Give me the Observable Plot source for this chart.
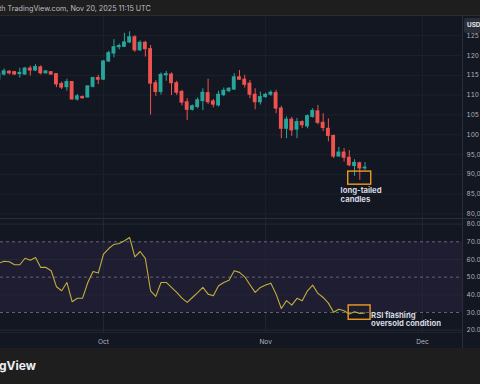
<!DOCTYPE html>
<html>
<head>
<meta charset="utf-8">
<script src="https://cdn.jsdelivr.net/npm/d3@7"></script>
<script src="https://cdn.jsdelivr.net/npm/@observablehq/plot@0.6"></script>
<style>
  html, body { margin: 0; padding: 0; width: 480px; height: 384px; overflow: hidden; background: #1e1e1e; }
  #wrap { position: relative; width: 480px; height: 384px; overflow: hidden; }
  #topbar { position: absolute; left: 0; top: 0; width: 480px; height: 15px; background: #1e1e1e; border-bottom: 1px solid #2b2b2e;
            color: #bcbfc7; font: 7.2px Inter, sans-serif; line-height: 17px; white-space: nowrap; }
  #topbar span { position: relative; left: -1px; }
  #price { position: absolute; left: 0; top: 16px; }
  #rsi { position: absolute; left: 0; top: 219px; }
  #bottombar { position: absolute; left: 0; top: 348px; width: 480px; height: 36px; background: #1e1e1e;
               color: #eceef2; font: bold 12px Inter, sans-serif; line-height: 36px; white-space: nowrap; }
  #bottombar span { position: relative; left: -1px; }
  .sep { position: absolute; background: #2a2e39; }
  #usd { position: absolute; left: 463.5px; top: 18px; width: 16.5px; height: 15px; background: #2a2e39; border-radius: 2px 0 0 2px;
         color: #e6e8ee; font: bold 6.4px Inter, sans-serif; line-height: 15px; padding-left: 3.5px; box-sizing: border-box;
         overflow: hidden; white-space: nowrap; }
</style>
</head>
<body>
<div id="wrap">
  <div id="topbar"><span>th TradingView.com, Nov 20, 2025 11:15 UTC</span></div>
  <div id="price"></div>
  <div id="rsi"></div>
  <div class="sep" style="left:0;top:218px;width:480px;height:1px;"></div>
  <div class="sep" style="left:0;top:332px;width:462px;height:1px;background:#1f2330;"></div>
  <div class="sep" style="left:462px;top:16px;width:1px;height:332px;"></div>
  <div id="usd">USD</div>
  <div id="bottombar"><span>gView</span></div>
</div>
<script>
// Daily BTC/USD candles, Sep 11 – Nov 20, 2025 (prices in USD thousands)
const firstDay = "2025-09-11";
const lastDay = "2025-11-20";
const open  = [113.9,115.2,115.9,115.8,115.3,115.2,116.7,116.2,117.0,115.5,115.8,115.3,112.8,112.0,113.3,108.9,109.5,109.4,112.1,114.3,
               113.9,118.5,120.5,122.1,122.2,123.3,124.6,121.3,123.2,121.6,113.0,110.8,115.0,115.2,113.0,110.8,108.2,106.3,107.0,108.5,
               110.5,108.4,107.4,110.0,111.0,111.4,114.5,113.9,112.9,110.1,108.2,109.5,110.1,110.5,106.6,101.5,103.8,101.3,103.2,102.1,
               104.5,105.9,103.0,101.5,99.7,94.5,95.5,94.2,92.1,92.8,91.5];
const high  = [115.6,116.6,116.2,116.0,116.8,117.0,117.3,117.7,117.4,116.2,115.9,115.4,113.3,114.0,113.4,110.2,109.8,112.4,114.5,115.0,
               118.7,121.1,124.0,122.9,125.6,126.0,125.0,123.7,123.6,122.5,113.7,115.6,116.0,115.6,113.5,111.2,109.1,107.5,109.3,111.6,
               114.0,108.9,111.0,111.8,111.9,115.4,116.2,115.0,113.7,111.6,110.8,110.5,111.1,111.2,107.2,104.5,104.4,104.1,103.5,105.0,
               106.6,107.4,105.3,104.0,99.9,96.8,96.5,96.0,93.7,93.1,93.0];
const low   = [113.5,114.8,115.1,115.0,114.3,115.0,114.8,116.0,115.1,115.3,115.0,111.9,111.4,111.0,108.7,108.5,109.0,109.3,111.8,112.7,
               113.7,118.2,119.4,121.4,122.0,123.0,120.8,121.0,119.6,105.0,109.7,110.0,113.5,109.9,109.9,107.3,103.6,106.0,106.5,106.1,
               107.6,106.8,107.0,109.6,110.6,111.2,113.7,111.8,109.1,106.3,107.5,109.2,109.7,105.3,99.0,99.0,99.6,99.0,101.6,101.5,
               104.2,102.5,100.8,98.2,94.0,94.4,93.1,91.9,89.5,88.5,91.0];
const close = [115.4,116.0,115.5,115.2,115.6,116.7,116.2,117.1,115.5,116.0,115.2,112.7,111.9,113.3,108.9,109.7,109.2,112.2,114.3,113.9,
               118.5,120.6,122.1,122.4,123.3,124.6,121.3,123.2,121.6,112.9,110.8,115.1,115.3,113.0,110.6,108.1,106.3,107.2,108.7,110.6,
               108.2,107.6,110.1,111.1,111.6,114.5,113.9,112.6,110.1,108.2,109.5,110.1,110.6,106.6,101.5,103.8,101.1,103.2,102.4,104.7,
               106.0,103.0,101.7,99.7,94.5,95.5,94.2,92.3,92.9,91.5,91.7];
// RSI (14) values for the same days
const rsi   = [57.9,59.0,58.7,57.0,57.0,60.7,59.6,61.1,55.5,55.5,53.6,44.6,42.3,47.0,36.1,38.1,38.1,47.0,53.2,52.3,
               63.0,66.2,68.5,69.0,70.6,72.4,61.5,64.5,60.6,42.3,39.1,47.0,47.0,44.2,41.4,38.1,35.7,38.5,41.2,44.2,
               40.4,39.5,45.1,47.0,48.3,53.6,52.7,50.2,45.7,41.4,44.2,45.5,46.6,40.4,32.3,36.7,34.2,38.0,36.7,42.3,
               45.5,40.8,38.5,35.3,30.1,31.9,31.0,29.1,30.4,29.5,29.7];

const priceTicks = [80, 85, 90, 95, 100, 105, 110, 115, 120, 125];
const rsiTicks = [20, 30, 40, 50, 60, 70, 80];
const rsiDashed = [30, 50, 70];
const rsiGrid = [20, 40, 60, 80];
const rsiBand = [{lo: 30, hi: 70}];
const monthTicks = [new Date("2025-10-01"), new Date("2025-11-01"), new Date("2025-12-01")];

// Annotations (in data coordinates)
const candleBox = [{from: "2025-11-16T19:00Z", to: "2025-11-21T04:30Z", lo: 87.4, hi: 90.7}];
const candleNote = [{at: "2025-11-15T08:00Z", y: 86.8, text: "long-tailed\ncandles"}];
const rsiBox = [{from: "2025-11-16T21:00Z", to: "2025-11-21T01:30Z", lo: 25.9, hi: 34.0}];
const rsiNote = [{at: "2025-11-21T04:00Z", y: 30.4, text: "RSI flashing\noversold condition"}];

const DAY = 864e5;
const dates = d3.utcDay.range(new Date(firstDay), new Date(+new Date(lastDay) + DAY));
const candles = dates.map((date, i) => ({date, open: open[i], high: high[i], low: low[i], close: close[i], rsi: rsi[i]}));
const up = "#26a69a", down = "#ef5350";
const colorOf = d => d.close >= d.open ? up : down;
const xDomain = [new Date("2025-09-11T07:20Z"), new Date("2025-12-08T15:25Z")];
const halfBody = 0.37 * DAY;
const font = "Inter, 'Noto Sans', sans-serif";
// The price scale is cropped at the picture's right edge: only the first characters of each label fit.
const fitLabel = s => s.slice(0, 4).replace(/[,.]$/, "");

const priceChart = Plot.plot({
  width: 480, height: 203,
  marginLeft: 0, marginRight: 18, marginTop: 39, marginBottom: 5.5,
  style: {background: "#131722", color: "#b2b5be", fontSize: "6.2px", fontFamily: font},
  x: {type: "utc", domain: xDomain, axis: null},
  y: {domain: [80, 120], axis: null},
  marks: [
    Plot.ruleY(priceTicks, {stroke: "#1c202b"}),
    Plot.ruleX(monthTicks, {stroke: "#1c202b", insetTop: -39, insetBottom: -5.5}),
    Plot.ruleX(candles, {x: "date", y1: "low", y2: "high", stroke: colorOf, strokeWidth: 1}),
    Plot.rect(candles, {
      x1: d => new Date(+d.date - halfBody), x2: d => new Date(+d.date + halfBody),
      y1: "open", y2: "close", fill: colorOf, insetTop: -0.5, insetBottom: -0.5
    }),
    Plot.axisY(priceTicks, {anchor: "right", tickSize: 0, tickPadding: 4, label: null,
      tickFormat: d => fitLabel(d3.format(",")(d * 1000)), fill: "#b2b5be", fontSize: 6.4}),
    Plot.rect(candleBox, {x1: d => new Date(d.from), x2: d => new Date(d.to), y1: "lo", y2: "hi",
      fill: "none", stroke: "#f39a1c", strokeWidth: 1.4}),
    Plot.text(candleNote, {x: d => new Date(d.at), y: "y", text: "text", textAnchor: "start", lineAnchor: "top",
      fill: "#d6d9e0", fontWeight: "bold", fontSize: 7.7, lineHeight: 1.12})
  ]
});
document.getElementById("price").append(priceChart);

const rsiChart = Plot.plot({
  width: 480, height: 129,
  marginLeft: 0, marginRight: 18, marginTop: 4.6, marginBottom: 18.3,
  style: {background: "#131722", color: "#b2b5be", fontSize: "6.2px", fontFamily: font},
  x: {type: "utc", domain: xDomain, axis: null},
  y: {domain: [20, 80], axis: null},
  marks: [
    Plot.rect(rsiBand, {x1: () => xDomain[0], x2: () => xDomain[1], y1: "lo", y2: "hi", fill: "#1e1d32"}),
    Plot.ruleY(rsiGrid, {stroke: "#262938"}),
    Plot.ruleX(monthTicks, {stroke: "#232734", insetTop: -4.6, insetBottom: -2.3}),
    Plot.ruleY(rsiDashed, {stroke: "#6c6f7b", strokeDasharray: "3,3", strokeWidth: 0.9}),
    Plot.line(candles, {x: "date", y: "rsi", stroke: "#c2af3a", strokeWidth: 1.1}),
    Plot.axisY(rsiTicks, {anchor: "right", tickSize: 0, tickPadding: 4, label: null,
      tickFormat: d => fitLabel(d3.format(".2f")(d)), fill: "#b2b5be", fontSize: 6.4}),
    Plot.axisX(monthTicks, {anchor: "bottom", tickSize: 0, tickPadding: 9, label: null,
      tickFormat: d3.utcFormat("%b"), fill: "#b2b5be", fontSize: 6.6}),
    Plot.rect(rsiBox, {x1: d => new Date(d.from), x2: d => new Date(d.to), y1: "lo", y2: "hi",
      fill: "none", stroke: "#f39a1c", strokeWidth: 1.4}),
    Plot.text(rsiNote, {x: d => new Date(d.at), y: "y", text: "text", textAnchor: "start", lineAnchor: "top",
      fill: "#d6d9e0", fontWeight: "bold", fontSize: 7.7, lineHeight: 1.1})
  ]
});
document.getElementById("rsi").append(rsiChart);
</script>
</body>
</html>
